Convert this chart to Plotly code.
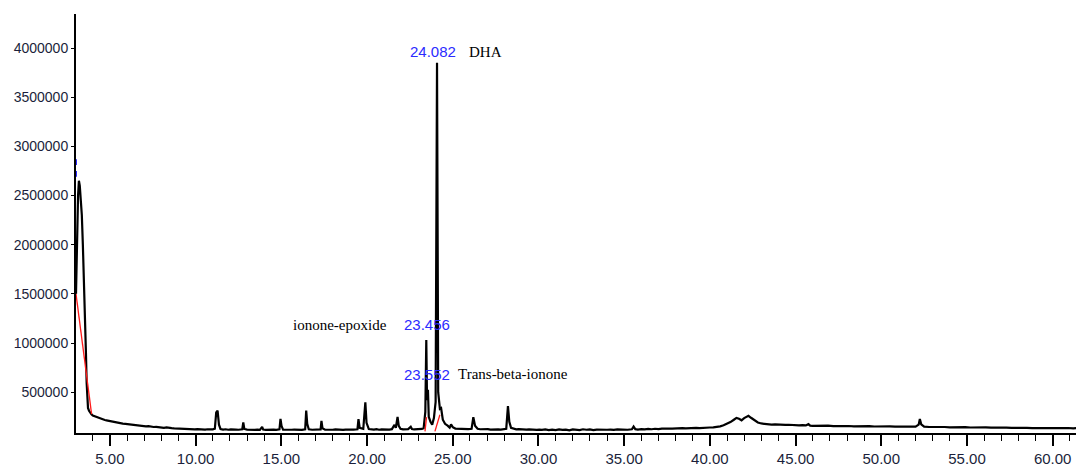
import plotly.graph_objects as go

# Retention time (min) and abundance
retention_time = [
    3.02, 3.08, 3.14, 3.19, 3.24, 3.30, 3.36, 3.42, 3.48, 3.55, 3.60, 3.64, 3.67, 3.72, 3.78, 3.85, 3.92,
    4.00, 4.10, 4.20, 4.30, 4.40, 4.50, 4.60, 4.70, 4.80, 4.90, 5.00, 5.15, 5.30, 5.45, 5.60, 5.75, 5.90,
    6.05, 6.20, 6.35, 6.50, 6.65, 6.80, 6.95, 7.10, 7.25, 7.40, 7.55, 7.70, 7.85, 8.00, 8.15, 8.30, 8.45,
    8.60, 8.75, 8.90, 9.05, 9.20, 9.35, 9.50, 9.65, 9.80, 9.95, 10.10, 10.25, 10.40, 10.55, 10.70, 10.85,
    11.00, 11.12, 11.20, 11.28, 11.36, 11.45, 11.60, 11.75, 11.90, 12.05, 12.20, 12.35, 12.50, 12.72, 12.78,
    12.84, 13.00, 13.15, 13.30, 13.45, 13.60, 13.75, 13.88, 13.94, 14.10, 14.25, 14.40, 14.55, 14.70, 14.89,
    14.95, 15.01, 15.10, 15.30, 15.45, 15.60, 15.75, 15.90, 16.05, 16.20, 16.39, 16.45, 16.51, 16.60, 16.80,
    16.95, 17.10, 17.29, 17.34, 17.40, 17.55, 17.70, 17.85, 18.00, 18.15, 18.30, 18.45, 18.60, 18.75, 18.90,
    19.05, 19.20, 19.44, 19.50, 19.57, 19.78, 19.90, 19.97, 20.10, 20.25, 20.40, 20.55, 20.70, 20.85, 21.00,
    21.15, 21.30, 21.45, 21.60, 21.68, 21.78, 21.85, 21.95, 22.10, 22.25, 22.40, 22.55, 22.62, 22.75, 22.90,
    23.05, 23.20, 23.30, 23.40, 23.456, 23.50, 23.552, 23.60, 23.70, 23.80, 23.90, 24.00, 24.082, 24.15,
    24.25, 24.32, 24.42, 24.55, 24.70, 24.82, 24.90, 25.00, 25.15, 25.30, 25.45, 25.60, 25.75, 25.90, 26.10,
    26.20, 26.30, 26.45, 26.60, 26.75, 26.90, 27.05, 27.20, 27.35, 27.50, 27.65, 27.80, 27.95, 28.12, 28.22,
    28.30, 28.40, 28.55, 28.70, 28.85, 29.00, 29.15, 29.30, 29.45, 29.60, 29.75, 29.90, 30.05, 30.20, 30.40,
    30.60, 30.80, 31.00, 31.20, 31.40, 31.60, 31.80, 32.00, 32.20, 32.40, 32.60, 32.80, 33.00, 33.20, 33.40,
    33.60, 33.80, 34.00, 34.20, 34.40, 34.60, 34.80, 35.00, 35.20, 35.45, 35.55, 35.65, 35.80, 36.00, 36.20,
    36.40, 36.60, 36.80, 37.00, 37.20, 37.40, 37.60, 37.80, 38.00, 38.20, 38.40, 38.60, 38.80, 39.00, 39.20,
    39.40, 39.60, 39.80, 40.00, 40.20, 40.40, 40.60, 40.80, 41.00, 41.20, 41.40, 41.55, 41.70, 41.85, 42.00,
    42.15, 42.25, 42.40, 42.60, 42.80, 43.00, 43.20, 43.40, 43.60, 43.80, 44.00, 44.20, 44.40, 44.60, 44.80,
    45.00, 45.20, 45.40, 45.60, 45.75, 45.85, 46.00, 46.30, 46.60, 46.90, 47.20, 47.50, 47.80, 48.10, 48.40,
    48.70, 49.00, 49.30, 49.60, 49.90, 50.20, 50.50, 50.80, 51.10, 51.40, 51.70, 52.00, 52.18, 52.25, 52.33,
    52.50, 52.80, 53.10, 53.40, 53.70, 54.00, 54.30, 54.60, 54.90, 55.20, 55.50, 55.80, 56.10, 56.40, 56.70,
    57.00, 57.30, 57.60, 57.90, 58.20, 58.50, 58.80, 59.10, 59.40, 59.70, 60.00, 60.30, 60.60, 60.90, 61.20,
    61.40,
]

abundance_k = [
    1500, 2100, 2500, 2650, 2600, 2450, 2300, 2000, 1700, 1250, 900, 600, 390, 340, 310, 285, 275,
    262, 255, 247, 240, 233, 228, 222, 217, 214, 210, 205, 198, 195, 190, 186, 181, 178,
    174, 170, 172, 164, 161, 158, 156, 152, 154, 148, 146, 148, 143, 140, 138, 142, 136,
    134, 132, 130, 133, 128, 126, 129, 124, 126, 122, 124, 120, 122, 119, 123, 120,
    122, 128, 295, 312, 170, 126, 120, 123, 118, 121, 117, 120, 118, 123, 192,
    126, 119, 116, 120, 117, 119, 116, 148, 120, 117, 120, 116, 119, 117, 122,
    228, 158, 120, 117, 121, 118, 120, 117, 119, 116, 123, 312, 178, 122, 118,
    120, 117, 122, 208, 133, 119, 117, 120, 118, 121, 117, 119, 116, 120, 118,
    121, 119, 123, 226, 138, 128, 398, 188, 126, 121, 119, 124, 118, 122, 119,
    123, 120, 124, 168, 138, 248, 158, 128, 122, 120, 124, 148, 126, 121, 123,
    120, 126, 133, 300, 1030, 420, 524, 250, 200, 170, 236, 400, 3850, 500,
    330, 338, 220, 178, 160, 140, 172, 145, 130, 128, 124, 126, 122, 125, 128,
    246, 158, 128, 123, 125, 121, 124, 120, 123, 119, 122, 120, 123, 128, 358,
    198, 138, 126, 122, 124, 120, 123, 119, 122, 118, 121, 117, 120, 116, 121,
    114, 119, 115, 122, 116, 120, 113, 121, 117, 115, 123, 118, 121, 115, 119,
    117, 122, 118, 120, 116, 121, 119, 122, 118, 123, 150, 124, 120, 125, 121,
    126, 123, 128, 125, 130, 127, 131, 129, 133, 130, 134, 132, 136, 133, 137,
    135, 139, 138, 141, 143, 147, 153, 163, 177, 196, 220, 238, 230, 214, 236,
    255, 260, 240, 212, 192, 182, 176, 174, 170, 172, 169, 171, 167, 169, 165,
    166, 163, 165, 162, 175, 160, 158, 160, 157, 159, 155, 157, 154, 156, 153,
    155, 152, 154, 151, 153, 150, 152, 149, 151, 153, 149, 150, 170, 228, 174,
    150, 146, 148, 144, 146, 143, 145, 142, 144, 141, 143, 140, 142, 139, 141,
    138, 140, 137, 139, 136, 138, 135, 137, 134, 136, 135, 137, 134, 136, 133,
    135,
]
abundance = [v * 1000 for v in abundance_k]

# Integration baselines (red)
baseline1_rt = [3.02, 3.93]
baseline1_ab = [1500000, 277000]
baseline2_rt = [23.38, 23.47]
baseline2_ab = [102000, 247000]
baseline3_rt = [23.96, 24.25]
baseline3_ab = [102000, 270000]

# Blue start markers
start_rt = [3.02, 3.02]
start_ab = [2840000, 2720000]

# Peak labels
peak_rt_labels = ["24.082", "23.456", "23.552"]
peak_names = ["DHA", "ionone-epoxide", "Trans-beta-ionone"]

x_tick_vals = [5, 10, 15, 20, 25, 30, 35, 40, 45, 50, 55, 60]
x_tick_text = ["5.00", "10.00", "15.00", "20.00", "25.00", "30.00", "35.00", "40.00",
               "45.00", "50.00", "55.00", "60.00"]
y_tick_vals = [500000, 1000000, 1500000, 2000000, 2500000, 3000000, 3500000, 4000000]
y_tick_text = ["500000", "1000000", "1500000", "2000000", "2500000", "3000000", "3500000", "4000000"]

fig = go.Figure()
fig.add_trace(go.Scatter(x=retention_time, y=abundance, mode="lines",
                         line=dict(color="black", width=2.2), showlegend=False))
for bx, by in [(baseline1_rt, baseline1_ab), (baseline2_rt, baseline2_ab), (baseline3_rt, baseline3_ab)]:
    fig.add_trace(go.Scatter(x=bx, y=by, mode="lines", line=dict(color="#ff1a1a", width=1.3),
                             showlegend=False))
fig.add_trace(go.Scatter(x=start_rt, y=start_ab, mode="markers",
                         marker=dict(color="#2a2aff", size=4, symbol="line-ns",
                                     line=dict(color="#2a2aff", width=2)),
                         showlegend=False))

blue = "#2b2bff"
num_font = dict(family="Liberation Sans, Arial", size=15, color=blue)
name_font = dict(family="Liberation Serif, Times New Roman", size=15, color="black")

anns = [
    # DHA
    dict(x=25.30, y=3960000, text=peak_rt_labels[0], xanchor="right", font=num_font),
    dict(x=25.85, y=3960000, text=peak_names[0], xanchor="left", font=name_font),
    # ionone-epoxide
    dict(x=21.28, y=1188000, text=peak_names[1], xanchor="right", font=name_font),
    dict(x=22.05, y=1188000, text=peak_rt_labels[1], xanchor="left", font=num_font),
    # trans-beta-ionone
    dict(x=22.05, y=683000, text=peak_rt_labels[2], xanchor="left", font=num_font),
    dict(x=25.20, y=683000, text=peak_names[2], xanchor="left", font=name_font),
]
for a in anns:
    a.update(xref="x", yref="y", showarrow=False, yanchor="middle")

tick_font_color = "#1b1f3b"
fig.update_layout(
    width=1076, height=467,
    margin=dict(l=76, r=0, t=14, b=32),
    paper_bgcolor="white", plot_bgcolor="white",
    annotations=anns,
    xaxis=dict(range=[3.02, 61.36], showgrid=False, zeroline=False,
               showline=True, linecolor="black", linewidth=2,
               tickmode="array", tickvals=x_tick_vals, ticktext=x_tick_text,
               ticks="outside", ticklen=11, tickwidth=1.5, tickcolor="black",
               minor=dict(dtick=1, tick0=0, ticks="outside", ticklen=6, tickwidth=1.2, tickcolor="black"),
               tickfont=dict(family="Liberation Sans, Arial", size=15, color=tick_font_color)),
    yaxis=dict(range=[85000, 4346000], showgrid=False, zeroline=False,
               showline=True, linecolor="black", linewidth=2,
               tickmode="array", tickvals=y_tick_vals, ticktext=y_tick_text,
               ticks="outside", ticklen=3, tickwidth=1, tickcolor="black",
               tickfont=dict(family="Liberation Sans, Arial", size=14, color=tick_font_color)),
)

fig.write_html("out.html", config={"displayModeBar": False},
               post_script="document.body.style.margin='0';document.body.style.overflow='hidden';")
